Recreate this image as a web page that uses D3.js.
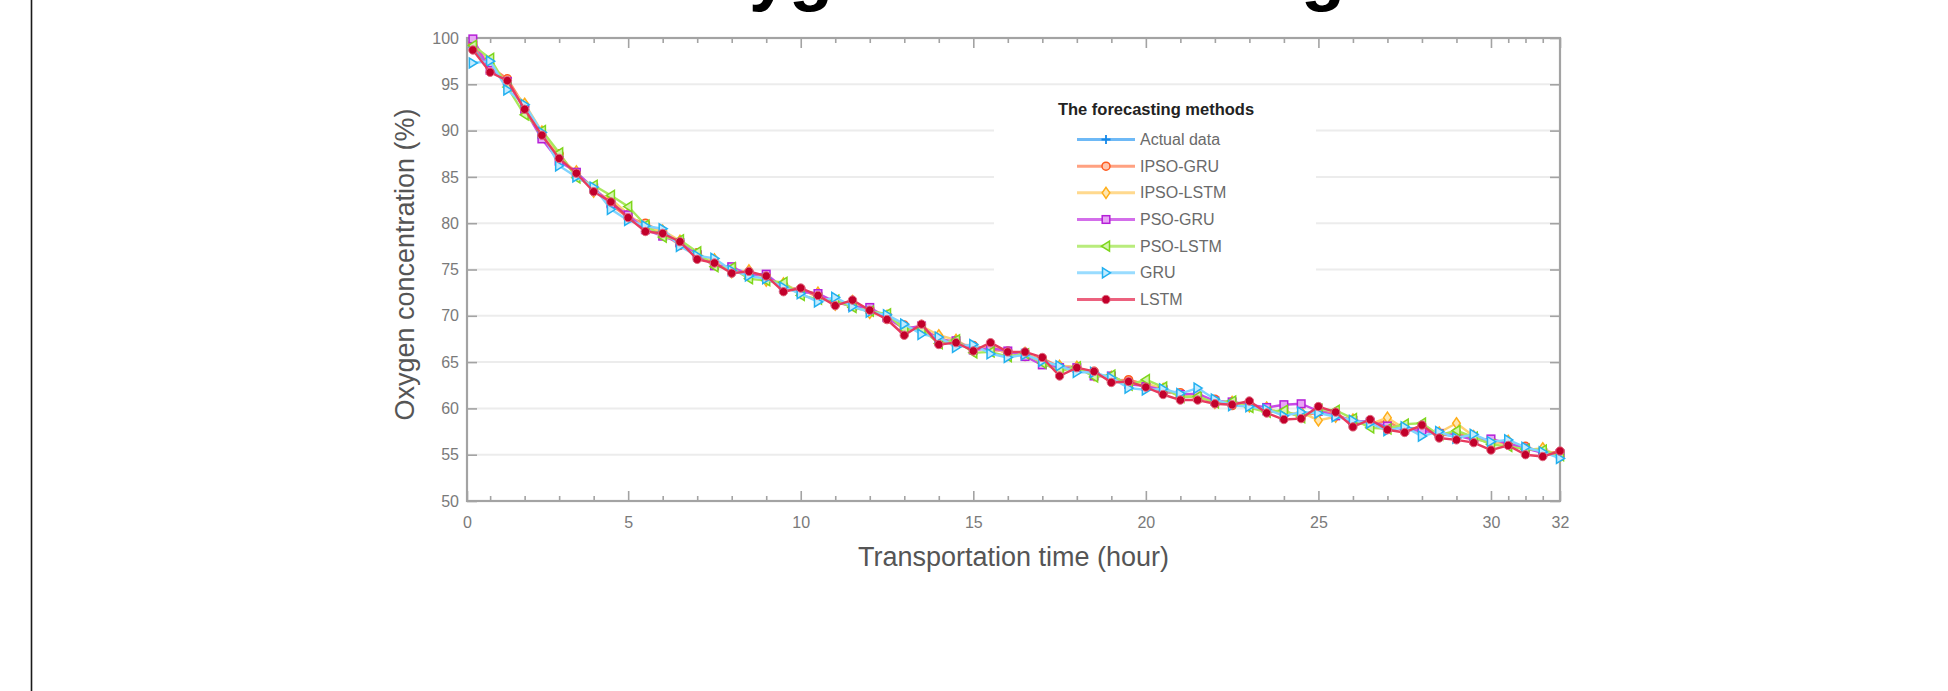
<!DOCTYPE html>
<html><head><meta charset="utf-8">
<script src="https://cdn.jsdelivr.net/npm/d3@7/dist/d3.min.js"></script>
<style>html,body{margin:0;padding:0;background:#fff;overflow:hidden;} svg{display:block;font-family:"Liberation Sans",Arial,Helvetica,sans-serif;}</style>
</head><body><svg id="chart" width="1948" height="691"></svg>
<script>
const chartTitle = "Oxygen Forecasting";
const xAxisTitle = "Transportation time (hour)";
const yAxisTitle = "Oxygen concentration (%)";
const legendTitle = "The forecasting methods";
const seriesNames = ["Actual data","IPSO-GRU","IPSO-LSTM","PSO-GRU","PSO-LSTM","GRU","LSTM"];

const times = [0.5,1,1.5,2,2.5,3,3.5,4,4.5,5,5.5,6,6.5,7,7.5,8,8.5,9,9.5,10,10.5,11,11.5,12,12.5,13,13.5,14,14.5,15,15.5,16,
  16.5,17,17.5,18,18.5,19,19.5,20,20.5,21,21.5,22,22.5,23,23.5,24,24.5,25,25.5,26,26.5,27,27.5,28,28.5,29,29.5,30,30.5,31,31.5,32];

const actualData = [99.0,96.8,95.2,92.5,89.6,87.2,85.3,83.6,82.3,80.8,79.6,78.9,77.9,76.5,75.8,75.0,74.7,74.1,73.2,72.8,72.3,71.4,71.4,70.6,69.8,68.8,68.7,67.5,67.1,66.5,66.6,66.0,
  65.8,65.2,64.3,64.3,63.8,63.2,62.9,62.4,61.9,61.5,61.3,60.8,60.5,60.4,59.9,59.5,59.3,59.8,59.3,58.6,58.6,58.0,57.9,57.8,57.2,57.0,56.8,56.3,56.3,55.6,55.4,55.0];
const ipsoGru = [99.3,96.9,95.6,92.6,89.3,87.5,85.1,83.8,82.0,80.6,80.0,79.0,77.6,76.8,75.6,75.1,74.4,74.3,73.0,72.9,72.0,71.6,71.2,70.8,69.6,69.0,68.4,67.7,66.9,66.8,66.3,66.2,
  65.6,65.4,64.5,64.1,64.0,63.0,63.1,62.6,61.7,61.7,61.0,61.0,60.3,60.6,59.7,59.7,59.1,59.6,59.5,58.4,58.4,58.6,57.6,58.0,57.0,57.4,56.6,56.5,56.1,55.9,55.2,55.3];
const ipsoLstm = [99.6,97.2,95.0,92.9,89.9,87.0,85.6,83.4,82.6,81.0,79.4,79.2,78.1,76.3,76.1,74.7,74.9,73.8,73.5,72.5,72.5,71.2,71.6,70.3,70.0,68.6,68.9,67.9,67.4,66.3,66.8,65.8,
  66.0,65.0,64.6,64.5,63.6,63.4,62.7,62.7,62.1,61.3,61.5,60.6,60.7,60.2,60.1,59.3,59.6,58.7,59.1,58.8,58.3,59.0,57.8,57.5,57.4,58.4,57.0,56.1,56.5,55.5,55.7,54.8];
const psoGru = [99.9,96.5,95.3,92.3,89.1,86.7,85.5,83.8,82.1,80.9,79.3,78.6,77.9,76.6,75.4,75.3,74.4,74.5,73.0,72.6,72.4,71.5,71.0,70.9,69.8,68.6,68.9,67.3,67.3,66.3,66.5,66.2,
  65.6,64.7,64.4,64.4,63.5,63.5,62.6,62.4,62.0,61.5,61.6,60.8,60.7,60.4,60.1,60.4,60.5,59.7,59.2,58.7,58.5,58.1,57.7,57.6,57.3,57.1,56.6,56.7,56.2,55.7,55.2,55.1];
const psoLstm = [99.2,97.8,94.7,91.7,90.0,87.6,84.9,84.1,83.0,81.8,79.8,78.5,78.2,76.9,75.3,75.2,74.0,73.8,73.6,72.2,71.8,71.7,70.9,70.5,70.2,68.5,68.6,67.0,67.4,66.0,66.1,65.6,
  65.9,64.9,64.0,64.5,63.4,63.6,62.5,63.1,62.3,61.2,61.3,60.6,60.8,60.1,59.6,59.8,59.0,59.9,59.8,58.9,57.9,57.8,58.3,58.4,57.1,57.6,56.9,56.1,55.9,55.6,55.5,54.9];
const gru = [97.3,97.5,94.4,92.8,89.8,86.2,85.0,83.9,81.5,80.3,79.7,79.4,77.5,76.5,76.2,74.9,74.3,74.0,73.1,72.4,71.5,72.0,71.0,70.4,70.1,69.1,68.0,67.7,66.6,66.9,65.9,65.5,
  65.8,65.1,64.6,63.9,63.9,63.3,62.2,62.0,62.1,61.6,62.2,61.0,60.3,60.2,59.9,59.2,59.6,59.5,59.1,58.7,58.4,57.6,58.0,57.0,57.5,56.8,57.2,56.4,56.6,55.8,55.3,54.6];
const lstm = [98.7,96.3,95.4,92.3,89.5,87.0,85.4,83.4,82.3,80.6,79.1,78.9,78.0,76.1,75.7,74.6,74.8,74.3,72.6,73.0,72.2,71.1,71.7,70.6,69.6,67.9,69.1,66.9,67.1,66.2,67.1,66.1,
  66.1,65.5,63.5,64.4,64.0,62.8,62.9,62.3,61.5,60.9,60.9,60.5,60.4,60.8,59.5,58.8,58.9,60.2,59.6,58.0,58.8,57.7,57.4,58.2,56.8,56.6,56.3,55.5,56.0,55.0,54.8,55.4];

const xTickValues = [0.33,5,10,15,20,25,30,32];
const xTickLabels = ["0","5","10","15","20","25","30","32"];
const xMinorTicks = [1,2,3,4,6,7,8,9,11,12,13,14,16,17,18,19,21,22,23,24,26,27,28,29,30.5,31,31.5];
const yTickValues = [50,55,60,65,70,75,80,85,90,95,100];

const styles = [
  {line:"#4aa8f5", stroke:"#1488e8", fill:"none", shape:"plus"},
  {line:"#ff8a62", stroke:"#ff5a1f", fill:"#ffc6ae", shape:"circle"},
  {line:"#ffd072", stroke:"#ffae1a", fill:"#ffe6b0", shape:"diamond"},
  {line:"#c94ae6", stroke:"#b51fd8", fill:"#e8a6f5", shape:"square"},
  {line:"#a8e85c", stroke:"#7ed61c", fill:"#d4f5ad", shape:"tleft"},
  {line:"#80d4ff", stroke:"#22b0f0", fill:"#c2ebff", shape:"tright"},
  {line:"#e83a5e", stroke:"#c2002b", fill:"#c2002b", shape:"dot"}
];
const allSeries = [actualData, ipsoGru, ipsoLstm, psoGru, psoLstm, gru, lstm];

const svg = d3.select("#chart");
const W = 1948, H = 691;
const plot = {left:467, right:1560, top:38, bottom:501};

const x = d3.scaleLinear().domain([0.33, 32]).range([plot.left, plot.right]);
const y = d3.scaleLinear().domain([50, 100]).range([plot.bottom, plot.top]);

svg.append("rect").attr("width", W).attr("height", H).attr("fill", "#fff");

// left frame line of the page
svg.append("line").attr("x1", 31.5).attr("x2", 31.5).attr("y1", 0).attr("y2", H)
  .attr("stroke", "#1a1a1a").attr("stroke-width", 1.6);

// title (cropped at the top edge, as in the reference)
svg.append("text").attr("x", 999).attr("y", -3).attr("text-anchor", "middle")
  .attr("font-size", 72).attr("font-weight", "bold").attr("fill", "#000").text(chartTitle);

// gridlines
svg.append("g").selectAll("line").data(yTickValues.filter(v => v > 50 && v < 100)).join("line")
  .attr("x1", plot.left).attr("x2", plot.right).attr("y1", d => y(d)).attr("y2", d => y(d))
  .attr("stroke", "#ececec").attr("stroke-width", 2);

// legend background (covers gridlines)
const lg = {x0: 994, x1: 1316, y0: 90, y1: 311};
svg.append("rect").attr("x", lg.x0).attr("y", lg.y0).attr("width", lg.x1 - lg.x0).attr("height", lg.y1 - lg.y0).attr("fill", "#fff");

// axes ticks (inward)
const axisColor = "#a3a3a3";
function styleAxis(g){ g.select(".domain").remove(); g.selectAll("line").attr("stroke", axisColor).attr("stroke-width", 1.6); g.selectAll("text").remove(); }
svg.append("g").attr("transform", `translate(0,${plot.bottom})`).call(d3.axisTop(x).tickValues(xTickValues).tickSize(10)).call(styleAxis);
svg.append("g").attr("transform", `translate(0,${plot.bottom})`).call(d3.axisTop(x).tickValues(xMinorTicks).tickSize(5)).call(styleAxis);
svg.append("g").attr("transform", `translate(0,${plot.top})`).call(d3.axisBottom(x).tickValues(xTickValues).tickSize(10)).call(styleAxis);
svg.append("g").attr("transform", `translate(0,${plot.top})`).call(d3.axisBottom(x).tickValues(xMinorTicks).tickSize(5)).call(styleAxis);
svg.append("g").attr("transform", `translate(${plot.left},0)`).call(d3.axisRight(y).tickValues(yTickValues).tickSize(10)).call(styleAxis);
svg.append("g").attr("transform", `translate(${plot.right},0)`).call(d3.axisLeft(y).tickValues(yTickValues).tickSize(10)).call(styleAxis);

// box
svg.append("rect").attr("x", plot.left).attr("y", plot.top).attr("width", plot.right - plot.left).attr("height", plot.bottom - plot.top)
  .attr("fill", "none").attr("stroke", axisColor).attr("stroke-width", 2.2);

// tick labels
const xLab = svg.append("g").attr("transform", `translate(0,${plot.bottom})`)
  .call(d3.axisBottom(x).tickValues(xTickValues).tickSize(0).tickPadding(16).tickFormat((d, i) => xTickLabels[i]));
xLab.select(".domain").remove();
xLab.selectAll("text").attr("font-size", 16).attr("fill", "#7a7a7a").attr("font-family", "Liberation Sans, Arial, sans-serif");
const yLab = svg.append("g").attr("transform", `translate(${plot.left},0)`)
  .call(d3.axisLeft(y).tickValues(yTickValues).tickSize(0).tickPadding(8).tickFormat(d3.format("d")));
yLab.select(".domain").remove();
yLab.selectAll("text").attr("font-size", 16).attr("fill", "#7a7a7a").attr("font-family", "Liberation Sans, Arial, sans-serif");

// axis titles
svg.append("text").attr("x", (plot.left + plot.right) / 2).attr("y", 566).attr("text-anchor", "middle")
  .attr("font-size", 27).attr("fill", "#555").text(xAxisTitle);
svg.append("text").attr("transform", `translate(414,${(plot.top + plot.bottom) / 2 - 5}) rotate(-90)`).attr("text-anchor", "middle")
  .attr("font-size", 27).attr("fill", "#555").text(yAxisTitle);

// marker drawing
function drawMarker(sel, st){
  switch(st.shape){
    case "plus": sel.append("path").attr("d", "M-4.5,0H4.5M0,-4.5V4.5").attr("stroke", st.stroke).attr("stroke-width", 1.8).attr("fill", "none"); break;
    case "circle": sel.append("circle").attr("r", 4).attr("fill", st.fill).attr("stroke", st.stroke).attr("stroke-width", 1.5); break;
    case "diamond": sel.append("path").attr("d", "M0,-5.5L3.8,0L0,5.5L-3.8,0Z").attr("fill", st.fill).attr("stroke", st.stroke).attr("stroke-width", 1.5); break;
    case "square": sel.append("rect").attr("x", -3.8).attr("y", -3.8).attr("width", 7.6).attr("height", 7.6).attr("fill", st.fill).attr("stroke", st.stroke).attr("stroke-width", 1.5); break;
    case "tleft": sel.append("path").attr("d", "M-4.5,0L3.5,-5L3.5,5Z").attr("fill", st.fill).attr("stroke", st.stroke).attr("stroke-width", 1.5); break;
    case "tright": sel.append("path").attr("d", "M4.5,0L-3.5,-5L-3.5,5Z").attr("fill", st.fill).attr("stroke", st.stroke).attr("stroke-width", 1.5); break;
    case "dot": sel.append("circle").attr("r", 4.2).attr("fill", st.fill).attr("stroke", "#e06a80").attr("stroke-width", 1); break;
  }
}

const line = d3.line().x((d, i) => x(times[i])).y(d => y(d));
const dataG = svg.append("g");
allSeries.forEach((vals, si) => {
  const st = styles[si];
  const g = dataG.append("g");
  g.append("path").datum(vals).attr("d", line).attr("fill", "none").attr("stroke", st.line).attr("stroke-width", 2.4).attr("stroke-linejoin", "round");
  g.selectAll("g.m").data(vals).join("g").attr("class", "m")
    .attr("transform", (d, i) => `translate(${x(times[i])},${y(d)})`)
    .each(function(){ drawMarker(d3.select(this), st); });
});

// legend
svg.append("text").attr("x", 1156).attr("y", 115).attr("text-anchor", "middle").attr("font-size", 16.5)
  .attr("font-weight", "bold").attr("fill", "#222").text(legendTitle);
const legRow = d3.scaleLinear().domain([0, 6]).range([139.5, 299.5]);
seriesNames.forEach((name, i) => {
  const st = styles[i];
  const g = svg.append("g").attr("transform", `translate(0,${legRow(i)})`);
  g.append("line").attr("x1", 1077).attr("x2", 1135).attr("y1", 0).attr("y2", 0).attr("stroke", st.line).attr("stroke-width", 3).attr("opacity", 0.8);
  drawMarker(g.append("g").attr("transform", "translate(1106,0)"), st);
  g.append("text").attr("x", 1140).attr("y", 0).attr("dy", "0.35em").attr("font-size", 16).attr("fill", "#6a6a6a").text(name);
});
</script></body></html>
